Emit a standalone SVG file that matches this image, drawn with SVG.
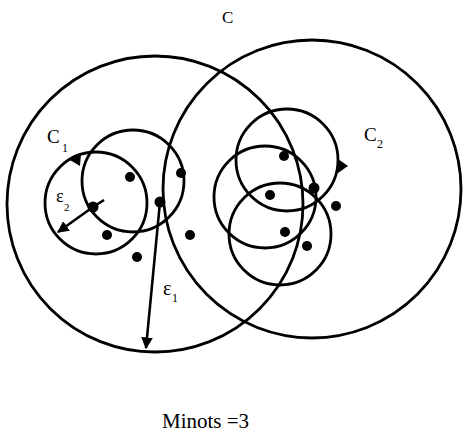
<svg xmlns="http://www.w3.org/2000/svg" width="463" height="432" viewBox="0 0 463 432">
<style>
.c{fill:none;stroke:#000;stroke-width:2.8}
.d{fill:#000}
.t{font-family:"Liberation Serif",serif;fill:#000}
.ln{stroke:#000;stroke-width:2.6;fill:none}
</style>
<defs>
<marker id="ah" viewBox="0 0 10 10" refX="9" refY="5" markerWidth="4.5" markerHeight="4.5" orient="auto" markerUnits="strokeWidth">
<path d="M0,0 L10,5 L0,10 z" fill="#000"/>
</marker>
</defs>
<rect width="463" height="432" fill="#fff"/>
<g id="clusterC1"><circle class="c" cx="155" cy="204" r="148"/></g>
<g id="clusterC2"><circle class="c" cx="312" cy="189" r="149"/></g>
<g id="nbhdA"><circle class="c" cx="96" cy="203" r="51"/></g>
<g id="nbhdB"><circle class="c" cx="133" cy="181" r="51"/></g>
<g id="nbhdD"><circle class="c" cx="287" cy="160" r="51"/></g>
<g id="nbhdE"><circle class="c" cx="265" cy="197" r="51"/></g>
<g id="nbhdF"><circle class="c" cx="280" cy="234" r="51"/></g>
<g id="points">
<circle class="d" cx="93" cy="207" r="5.5"/>
<circle class="d" cx="130" cy="177" r="5"/>
<circle class="d" cx="107" cy="235" r="5"/>
<circle class="d" cx="137" cy="257" r="5"/>
<circle class="d" cx="160" cy="202" r="5.5"/>
<circle class="d" cx="181" cy="173" r="5"/>
<circle class="d" cx="190" cy="235" r="5"/>
<circle class="d" cx="284" cy="156" r="5"/>
<circle class="d" cx="270" cy="195" r="5"/>
<circle class="d" cx="285" cy="232" r="5"/>
<circle class="d" cx="307" cy="246" r="5"/>
<circle class="d" cx="314" cy="188" r="5.5"/>
<circle class="d" cx="336" cy="206" r="5"/>
<path class="d" d="M338,159 L348,166 L338,173 z"/>
<path class="d" d="M81,154 L70,160 L80,166 z"/>
</g>
<g id="connectors">
<line class="ln" x1="93" y1="207" x2="58" y2="232" marker-end="url(#ah)"/>
<line class="ln" x1="93" y1="207" x2="104" y2="200"/>
<line class="ln" x1="160" y1="202" x2="146" y2="348" marker-end="url(#ah)"/>
</g>
<g id="labels">
<text class="t" x="222" y="23" font-size="17">C</text>
<text class="t" x="47" y="143" font-size="19">C</text>
<text class="t" x="62" y="152" font-size="12">1</text>
<text class="t" x="364" y="141" font-size="19">C</text>
<text class="t" x="377" y="148" font-size="12">2</text>
<text class="t" x="56" y="202" font-size="18">ε</text>
<text class="t" x="64" y="211" font-size="11">2</text>
<text class="t" x="163" y="295" font-size="20">ε</text>
<text class="t" x="172" y="302" font-size="12">1</text>
<text class="t" x="162" y="428" font-size="21">Minots =3</text>
</g>
</svg>
